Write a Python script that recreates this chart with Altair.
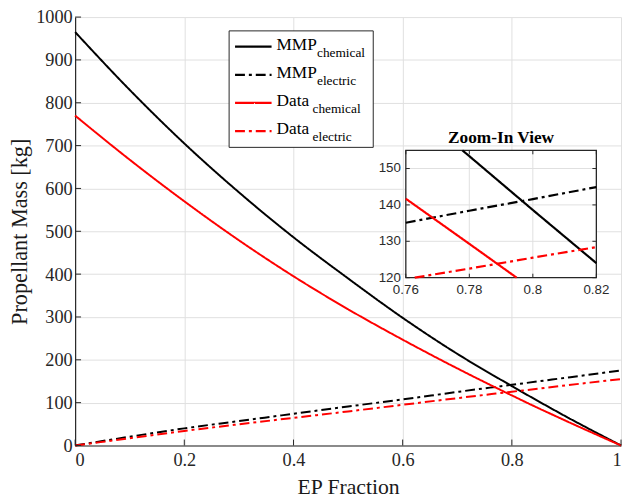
import altair as alt
import pandas as pd

# ---------------- data ----------------
series_names = ["MMP chemical", "MMP electric", "Data chemical", "Data electric"]
series_colors = ["#000000", "#000000", "#ff0000", "#ff0000"]
series_dashes = [[1, 0], [10, 4, 3, 4], [1, 0], [10, 4, 3, 4]]

x_mmp_chem = [0, 0.1, 0.2, 0.3, 0.4, 0.5, 0.6, 0.7, 0.7778, 0.78, 0.8, 0.82, 0.9, 1.0]
y_mmp_chem = [965, 830, 705, 591, 486, 390, 298, 214, 155, 153.4, 138.6, 124, 67, 0]

x_mmp_elec = [0, 0.1, 0.2, 0.3, 0.4, 0.5, 0.6, 0.7, 0.76, 0.78, 0.8, 0.82, 0.9, 1.0]
y_mmp_elec = [0, 20.5, 40, 57, 74, 91, 107.5, 125, 135.1, 138.4, 141.6, 144.9, 158.3, 175]

x_data_chem = [0, 0.1, 0.2, 0.3, 0.4, 0.5, 0.6, 0.7, 0.76, 0.78, 0.7949, 0.8, 0.82, 0.9, 1.0]
y_data_chem = [770, 667, 570, 479, 395, 318, 247, 180, 141.7, 129.3, 120, 116.9, 104.5, 57, 0]

x_data_elec = [0, 0.1, 0.2, 0.3, 0.4, 0.5, 0.6, 0.7, 0.7628, 0.78, 0.8, 0.82, 0.9, 1.0]
y_data_elec = [0, 17, 34, 49.5, 64.5, 79.5, 95, 110.5, 120, 122.5, 125.5, 128.4, 140.5, 155]

main_xticks = [0, 0.2, 0.4, 0.6, 0.8, 1.0]
main_yticks = [0, 100, 200, 300, 400, 500, 600, 700, 800, 900, 1000]

inset_xdomain = [0.76, 0.82]
inset_ydomain = [120, 155]
inset_xticks = [0.76, 0.78, 0.8, 0.82]
inset_xlabels = ["0.76", "0.78", "0.8", "0.82"]
inset_yticks = [120, 130, 140, 150]
inset_ylabels = ["120", "130", "140", "150"]
inset_xgrid = [0.78, 0.8]
inset_ygrid = [130, 140, 150]

legend_main = ["MMP", "MMP", "Data", "Data"]
legend_sub = ["chemical", "electric", "chemical", "electric"]

# ---------------- build tables ----------------
rows = []
for name, xs, ys in zip(series_names,
                        [x_mmp_chem, x_mmp_elec, x_data_chem, x_data_elec],
                        [y_mmp_chem, y_mmp_elec, y_data_chem, y_data_elec]):
    for xv, yv in zip(xs, ys):
        rows.append({"x": xv, "y": yv, "series": name})
df = pd.DataFrame(rows)

# ---------------- layout constants ----------------
W, H = 553, 434
IX0, IX1 = 335, 528     # inset left/right (plot px)
IY0, IY1 = 264, 135     # inset bottom/top (plot px)
AX = "#262626"
GRID = "#e0e0e0"
SERIF = "Liberation Serif"
SANS = "Liberation Sans"

color_scale = alt.Scale(domain=series_names, range=series_colors)
dash_scale = alt.Scale(domain=series_names, range=series_dashes)

# ---------------- main panel ----------------
mx = alt.Scale(domain=[0, 1], nice=False, zero=False)
my = alt.Scale(domain=[0, 1000], nice=False, zero=False)

main_lines = alt.Chart(df).mark_line(strokeWidth=2, interpolate="monotone").encode(
    x=alt.X("x:Q", scale=mx, axis=alt.Axis(
        values=main_xticks, format="~g", title="EP Fraction", grid=True, gridColor=GRID,
        ticks=False, tickSize=0, domainColor=AX, domainWidth=1.2,
        labelFont=SERIF, labelFontSize=18.5, labelColor=AX, labelPadding=5,
        titleFont=SERIF, titleFontSize=22, titleFontWeight="normal", titleColor="#1a1a1a",
        titleX=W / 2, titleY=42, titleBaseline="middle")),
    y=alt.Y("y:Q", scale=my, axis=alt.Axis(
        values=main_yticks, format="d", title="Propellant Mass [kg]", grid=True, gridColor=GRID,
        ticks=False, tickSize=0, domainColor=AX, domainWidth=1.2,
        labelFont=SERIF, labelFontSize=18.5, labelColor=AX, labelPadding=3,
        titleFont=SERIF, titleFontSize=22.5, titleFontWeight="normal", titleColor="#1a1a1a",
        titleX=-56, titleY=H / 2, titleBaseline="middle")),
    color=alt.Color("series:N", scale=color_scale, legend=None),
    strokeDash=alt.StrokeDash("series:N", scale=dash_scale, legend=None),
)

xt_df = pd.DataFrame({"v": main_xticks})
yt_df = pd.DataFrame({"v": main_yticks})
main_xt = alt.Chart(xt_df).mark_rule(color=AX, strokeWidth=1).encode(
    x=alt.X("v:Q", scale=mx), y=alt.value(H), y2=alt.value(H - 6))
main_yt = alt.Chart(yt_df).mark_rule(color=AX, strokeWidth=1).encode(
    y=alt.Y("v:Q", scale=my), x=alt.value(0), x2=alt.value(6))

main = alt.layer(main_lines, main_xt, main_yt)

# ---------------- inset panel ----------------
ix = alt.Scale(domain=inset_xdomain, range=[IX0, IX1], nice=False, zero=False)
iy = alt.Scale(domain=inset_ydomain, range=[IY0, IY1], nice=False, zero=False)

box_df = pd.DataFrame({"x0": [inset_xdomain[0]], "x1": [inset_xdomain[1]],
                       "y0": [inset_ydomain[0]], "y1": [inset_ydomain[1]]})
inset_bg = alt.Chart(box_df).mark_rect(fill="white", stroke=AX, strokeWidth=1.3).encode(
    x=alt.X("x0:Q", scale=ix, axis=None), x2="x1:Q",
    y=alt.Y("y0:Q", scale=iy, axis=None), y2="y1:Q")

ixg = pd.DataFrame({"v": inset_xgrid})
iyg = pd.DataFrame({"v": inset_ygrid})
inset_vgrid = alt.Chart(ixg).mark_rule(color=GRID, strokeWidth=1).encode(
    x=alt.X("v:Q", scale=ix, axis=None), y=alt.value(IY1 + 1), y2=alt.value(IY0 - 1))
inset_hgrid = alt.Chart(iyg).mark_rule(color=GRID, strokeWidth=1).encode(
    y=alt.Y("v:Q", scale=iy, axis=None), x=alt.value(IX0 + 1), x2=alt.value(IX1 - 1))

inset_lines = alt.Chart(df).transform_filter(
    f"datum.x >= {inset_xdomain[0]} && datum.x <= {inset_xdomain[1]} && "
    f"datum.y >= {inset_ydomain[0]} && datum.y <= {inset_ydomain[1]}"
).mark_line(strokeWidth=2.2).encode(
    x=alt.X("x:Q", scale=ix, axis=None),
    y=alt.Y("y:Q", scale=iy, axis=None),
    color=alt.Color("series:N", scale=color_scale, legend=None),
    strokeDash=alt.StrokeDash("series:N", scale=dash_scale, legend=None),
)

ixt = pd.DataFrame({"v": inset_xticks, "lab": inset_xlabels})
iyt = pd.DataFrame({"v": inset_yticks, "lab": inset_ylabels})
inset_xt_b = alt.Chart(ixt).mark_rule(color=AX, strokeWidth=1).encode(
    x=alt.X("v:Q", scale=ix, axis=None), y=alt.value(IY0), y2=alt.value(IY0 - 4))
inset_xt_t = alt.Chart(ixt).mark_rule(color=AX, strokeWidth=1).encode(
    x=alt.X("v:Q", scale=ix, axis=None), y=alt.value(IY1), y2=alt.value(IY1 + 4))
inset_yt_l = alt.Chart(iyt).mark_rule(color=AX, strokeWidth=1).encode(
    y=alt.Y("v:Q", scale=iy, axis=None), x=alt.value(IX0), x2=alt.value(IX0 + 4))
inset_yt_r = alt.Chart(iyt).mark_rule(color=AX, strokeWidth=1).encode(
    y=alt.Y("v:Q", scale=iy, axis=None), x=alt.value(IX1), x2=alt.value(IX1 - 4))
inset_xl = alt.Chart(ixt).mark_text(font=SANS, fontSize=13.5, color="#2b2b2b",
                                    baseline="top", align="center").encode(
    x=alt.X("v:Q", scale=ix, axis=None), y=alt.value(IY0 + 6), text="lab:N")
inset_yl = alt.Chart(iyt).mark_text(font=SANS, fontSize=13.5, color="#2b2b2b",
                                    baseline="middle", align="right").encode(
    y=alt.Y("v:Q", scale=iy, axis=None), x=alt.value(IX0 - 5), text="lab:N")
inset_title = alt.Chart(pd.DataFrame({"t": ["Zoom-In View"]})).mark_text(
    font=SERIF, fontSize=17.5, fontWeight="bold", color="#000000",
    baseline="alphabetic", align="center").encode(
    x=alt.value((IX0 + IX1) / 2), y=alt.value(IY1 - 7), text="t:N")

inset = alt.layer(inset_bg, inset_vgrid, inset_hgrid, inset_lines,
                  inset_xt_b, inset_xt_t, inset_yt_l, inset_yt_r,
                  inset_xl, inset_yl, inset_title)

# ---------------- custom legend (with subscripts) ----------------
LX0, LX1, LY0, LY1 = 156, 302, 14, 132
row_y = [30, 58.5, 87, 115.5]
sub_x = [245, 245, 240.5, 240.5]

legend_layers = [
    alt.Chart(pd.DataFrame({"t": [""]})).mark_rect(fill="white", stroke=AX, strokeWidth=1).encode(
        x=alt.value(LX0), x2=alt.value(LX1), y=alt.value(LY0), y2=alt.value(LY1))
]
for i in range(4):
    ry = row_y[i]
    legend_layers.append(
        alt.Chart(pd.DataFrame({"t": [series_names[i]]})).mark_rule(
            color=series_colors[i], strokeWidth=2.2, strokeDash=series_dashes[i]).encode(
            x=alt.value(162), x2=alt.value(199), y=alt.value(ry)))
    legend_layers.append(
        alt.Chart(pd.DataFrame({"t": [legend_main[i]]})).mark_text(
            font=SERIF, fontSize=17.5, color="#000000", align="left", baseline="alphabetic").encode(
            x=alt.value(204), y=alt.value(ry + 3), text="t:N"))
    legend_layers.append(
        alt.Chart(pd.DataFrame({"t": [legend_sub[i]]})).mark_text(
            font=SERIF, fontSize=13.5, color="#000000", align="left", baseline="alphabetic").encode(
            x=alt.value(sub_x[i]), y=alt.value(ry + 10.5), text="t:N"))
legend = alt.layer(*legend_layers)

chart = alt.layer(main, inset, legend).resolve_scale(
    x="independent", y="independent", color="shared", strokeDash="shared"
).properties(
    width=W, height=H,
    padding={"left": 68, "top": 6, "right": 2, "bottom": 50},
    autosize=alt.AutoSizeParams(type="none"),
).configure_view(strokeWidth=0)

chart.save("out.html", embed_options={"renderer": "svg", "actions": False})
